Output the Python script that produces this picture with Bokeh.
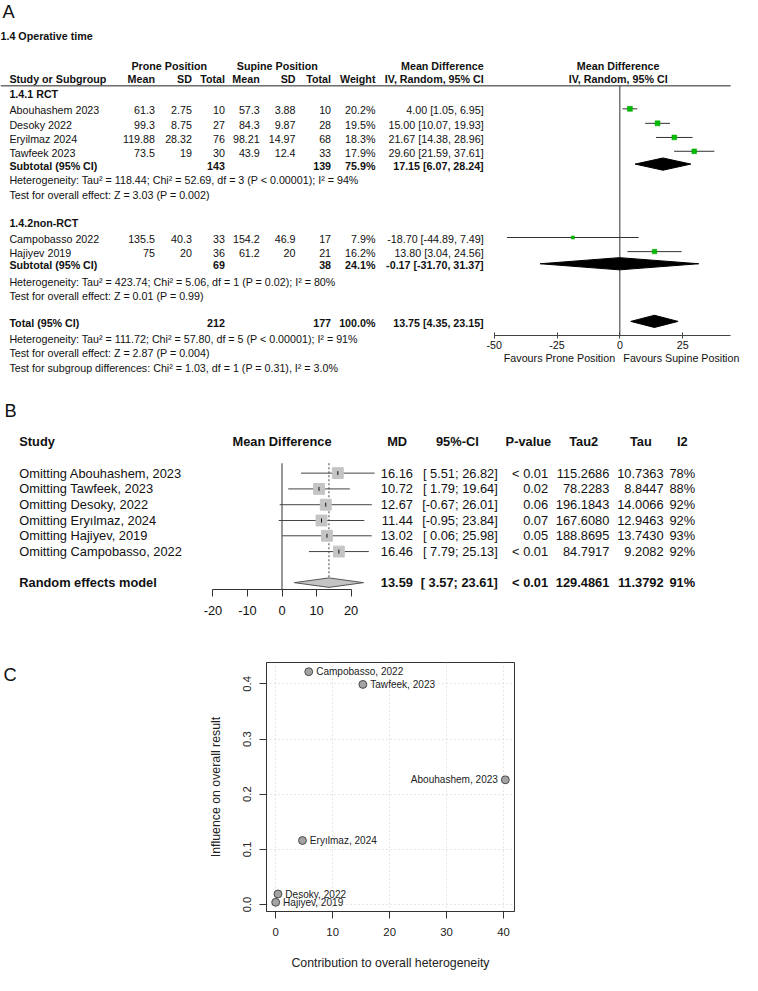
import numpy as np
from bokeh.plotting import figure
from bokeh.layouts import column, row
from bokeh.models import Range1d, LinearAxis, FixedTicker, PrintfTickFormatter
from bokeh.core.properties import value
from bokeh.embed import file_html
from bokeh.resources import INLINE

FONT = "Liberation Sans"
INK = "#111111"
S = 742 / 752.0          # page px per reference px

# ========================= DATA =========================
# ---- Panel A : RevMan forest plot ----
a_title = "1.4 Operative time"
a_groups = ["1.4.1 RCT", "1.4.2non-RCT"]
a_studies = ["Abouhashem 2023", "Desoky 2022", "Eryilmaz 2024", "Tawfeek 2023",
             "Campobasso 2022", "Hajiyev 2019"]
a_prone_mean = [61.3, 99.3, 119.88, 73.5, 135.5, 75]
a_prone_sd = [2.75, 8.75, 28.32, 19, 40.3, 20]
a_prone_n = [10, 27, 76, 30, 33, 36]
a_sup_mean = [57.3, 84.3, 98.21, 43.9, 154.2, 61.2]
a_sup_sd = [3.88, 9.87, 14.97, 12.4, 46.9, 20]
a_sup_n = [10, 28, 68, 33, 17, 21]
a_weight = [20.2, 19.5, 18.3, 17.9, 7.9, 16.2]
a_md = [4.00, 15.00, 21.67, 29.60, -18.70, 13.80]
a_lo = [1.05, 10.07, 14.38, 21.59, -44.89, 3.04]
a_hi = [6.95, 19.93, 28.96, 37.61, 7.49, 24.56]

a_sum_labels = ["Subtotal (95% CI)", "Subtotal (95% CI)", "Total (95% CI)"]
a_sum_prone_n = [143, 69, 212]
a_sum_sup_n = [139, 38, 177]
a_sum_weight = [75.9, 24.1, 100.0]
a_sum_md = [17.15, -0.17, 13.75]
a_sum_lo = [6.07, -31.70, 4.35]
a_sum_hi = [28.24, 31.37, 23.15]

a_notes = [
    "Heterogeneity: Tau\u00b2 = 118.44; Chi\u00b2 = 52.69, df = 3 (P < 0.00001); I\u00b2 = 94%",
    "Test for overall effect: Z = 3.03 (P = 0.002)",
    "Heterogeneity: Tau\u00b2 = 423.74; Chi\u00b2 = 5.06, df = 1 (P = 0.02); I\u00b2 = 80%",
    "Test for overall effect: Z = 0.01 (P = 0.99)",
    "Heterogeneity: Tau\u00b2 = 111.72; Chi\u00b2 = 57.80, df = 5 (P < 0.00001); I\u00b2 = 91%",
    "Test for overall effect: Z = 2.87 (P = 0.004)",
    "Test for subgroup differences: Chi\u00b2 = 1.03, df = 1 (P = 0.31), I\u00b2 = 3.0%",
]
a_arm_headers = ["Prone Position", "Supine Position"]
a_col_headers = ["Mean", "SD", "Total", "Mean", "SD", "Total", "Weight", "IV, Random, 95% CI"]
a_forest_headers = ["Mean Difference", "IV, Random, 95% CI"]
a_ticks = [-50, -25, 0, 25]
a_favours = ["Favours Prone Position", "Favours Supine Position"]

# ---- Panel B : leave-one-out ----
b_headers = ["Study", "Mean Difference", "MD", "95%-CI", "P-value", "Tau2", "Tau", "I2"]
b_labels = ["Omitting Abouhashem, 2023", "Omitting Tawfeek, 2023", "Omitting Desoky, 2022",
            "Omitting Ery\u0131lmaz, 2024", "Omitting Hajiyev, 2019", "Omitting Campobasso, 2022"]
b_md = [16.16, 10.72, 12.67, 11.44, 13.02, 16.46]
b_lo = [5.51, 1.79, -0.67, -0.95, 0.06, 7.79]
b_hi = [26.82, 19.64, 26.01, 23.84, 25.98, 25.13]
b_p = ["< 0.01", "0.02", "0.06", "0.07", "0.05", "< 0.01"]
b_tau2 = [115.2686, 78.2283, 196.1843, 167.6080, 188.8695, 84.7917]
b_tau = [10.7363, 8.8447, 14.0066, 12.9463, 13.7430, 9.2082]
b_i2 = [78, 88, 92, 92, 93, 92]
b_re_label = "Random effects model"
b_re_md, b_re_lo, b_re_hi = 13.59, 3.57, 23.61
b_re_p, b_re_tau2, b_re_tau, b_re_i2 = "< 0.01", 129.4861, 11.3792, 91
b_ticks = [-20, -10, 0, 10, 20]

# ---- Panel C : Baujat plot ----
c_labels = ["Campobasso, 2022", "Tawfeek, 2023", "Abouhashem, 2023",
            "Ery\u0131lmaz, 2024", "Desoky, 2022", "Hajiyev, 2019"]
c_x = [5.8, 15.3, 40.3, 4.7, 0.4, 0.0]
c_y = [0.422, 0.399, 0.226, 0.116, 0.019, 0.004]
c_label_left = [False, False, True, False, False, False]
c_xticks = [0, 10, 20, 30, 40]
c_yticks = [0.0, 0.1, 0.2, 0.3, 0.4]
c_xlabel = "Contribution to overall heterogeneity"
c_ylabel = "Influence on overall result"

# ========================= LAYOUT (reference px) =========================
A_X_STUDY = 12
A_COLS = [159.5, 197, 230.5, 265.7, 302, 338, 383, 492.7]
A_ARM_X = [174, 283.5]
A_Y_HEAD = [67, 81]
A_Y_GROUP = [95.7, 226]
A_Y_STUDY = [112.3, 127, 141.3, 155.3, 242.7, 257]
A_Y_SUM = [168.3, 269.3, 327.7]
A_Y_NOTES = [183.3, 198.3, 286.7, 300, 344.3, 358.7, 373.3]
A_LINE_Y = 87.5
A_ZERO_X, A_PX = 630.7, 2.547
A_AXIS_Y = 341
A_AXIS_END = 44.1
A_FAV_Y = 363.3
FA = 10.85

B_Y_HEAD = 448
B_Y_ROWS = [480, 496, 512, 528, 543.5, 559.5]
B_Y_RE = 591
B_AXIS_Y = 598
B_LINE_TOP = 470
B_ZERO_X, B_PX = 288.3, 3.5
B_COLS_R = [421, 507, 558, 620, 675, 707]
B_HEAD_X = [405, 466, 538, 594, 652, 694]
FB = 13

C_FRAME = (272.5, 524, 671.5, 924)   # left, right, top, bottom
C_END = 988


def fs(px):
    return f"{px * S:.2f}px"


def blank(xa, xb, ya, yb, **kw):
    w = int(round((xb - xa) * S))
    h = int(round((yb - ya) * S))
    p = figure(width=w, height=h, x_range=Range1d(xa, xa + w / S), y_range=Range1d(ya + h / S, ya),
               output_backend="svg", toolbar_location=None, x_axis_location=None,
               y_axis_location=None, min_border=0, outline_line_color=None, **kw)
    p.grid.grid_line_color = None
    return p


def put(p, xs, ys, texts, size, align="left", bold=False, color=INK, rn=None, **kw):
    n = len(texts)
    if not isinstance(xs, (list, tuple)):
        xs = [xs] * n
    if not isinstance(ys, (list, tuple)):
        ys = [ys] * n
    if rn:
        kw["x_range_name"] = rn
    p.text(x=list(xs), y=list(ys), text=list(texts), text_font=value(FONT),
           text_font_size=fs(size), text_align=align, text_baseline="middle",
           text_font_style="bold" if bold else "normal", text_color=color, **kw)


def g(v):
    return f"{v:g}"


def eff(m, l, h):
    return f"{m:.2f} [{l:.2f}, {h:.2f}]"


def md_of(img_x, zero, px):
    return (img_x - zero) / px


# ========================= PANEL A =========================
pA = blank(3, 755, 1, 398)
pA.extra_x_ranges = {"md": Range1d(md_of(3, A_ZERO_X, A_PX), md_of(3 + 742 / S, A_ZERO_X, A_PX))}
put(pA, 5, 12.5, ["A"], 18.5)
put(pA, 3, 37, [a_title], FA, bold=True)
put(pA, A_ARM_X, A_Y_HEAD[0], a_arm_headers, FA, align="center", bold=True)
put(pA, A_COLS[-1], A_Y_HEAD[0], [a_forest_headers[0]], FA, align="right", bold=True)
put(pA, A_X_STUDY, A_Y_HEAD[1], ["Study or Subgroup"], FA, bold=True)
put(pA, A_COLS, A_Y_HEAD[1], a_col_headers, FA, align="right", bold=True)
pA.segment(x0=[3], y0=[A_LINE_Y], x1=[743], y1=[A_LINE_Y], line_color="#222222", line_width=1)

put(pA, A_X_STUDY, A_Y_GROUP, a_groups, FA, bold=True)
put(pA, A_X_STUDY, A_Y_STUDY, a_studies, FA)
cols = [[g(v) for v in a_prone_mean], [g(v) for v in a_prone_sd], [g(v) for v in a_prone_n],
        [g(v) for v in a_sup_mean], [g(v) for v in a_sup_sd], [g(v) for v in a_sup_n],
        [f"{v:.1f}%" for v in a_weight],
        [eff(m, l, h) for m, l, h in zip(a_md, a_lo, a_hi)]]
for cx, vals in zip(A_COLS, cols):
    put(pA, cx, A_Y_STUDY, vals, FA, align="right")

put(pA, A_X_STUDY, A_Y_SUM, a_sum_labels, FA, bold=True)
put(pA, A_COLS[2], A_Y_SUM, [str(v) for v in a_sum_prone_n], FA, align="right", bold=True)
put(pA, A_COLS[5], A_Y_SUM, [str(v) for v in a_sum_sup_n], FA, align="right", bold=True)
put(pA, A_COLS[6], A_Y_SUM, [f"{v:.1f}%" for v in a_sum_weight], FA, align="right", bold=True)
put(pA, A_COLS[7], A_Y_SUM, [eff(m, l, h) for m, l, h in zip(a_sum_md, a_sum_lo, a_sum_hi)],
    FA, align="right", bold=True)
put(pA, A_X_STUDY, A_Y_NOTES, a_notes, FA)

# forest part of A (mean difference scale)
axA = LinearAxis(x_range_name="md", fixed_location=A_AXIS_Y, ticker=FixedTicker(ticks=a_ticks),
                 bounds=(a_ticks[0], A_AXIS_END), formatter=PrintfTickFormatter(format="%d"),
                 major_tick_in=3, major_tick_out=3, minor_tick_in=0, minor_tick_out=0,
                 axis_line_color="#444444", major_tick_line_color="#444444",
                 major_label_text_font=FONT, major_label_text_font_size=fs(FA),
                 major_label_text_color=INK, major_label_standoff=2)
pA.add_layout(axA, "below")
hdr_md = md_of(629, A_ZERO_X, A_PX)
put(pA, hdr_md, A_Y_HEAD[0], [a_forest_headers[0]], FA, align="center", bold=True, rn="md")
put(pA, hdr_md, A_Y_HEAD[1], [a_forest_headers[1]], FA, align="center", bold=True, rn="md")
put(pA, [-1.9, 1.4], A_FAV_Y, a_favours, FA, align=["right", "left"], rn="md")
pA.segment(x0=[0], y0=[A_LINE_Y], x1=[0], y1=[A_AXIS_Y], x_range_name="md",
           line_color="#333333", line_width=1)
ys_m = [y - 1.5 for y in A_Y_STUDY]
pA.segment(x0=a_lo, y0=ys_m, x1=a_hi, y1=ys_m, x_range_name="md", line_color="#333333", line_width=1)
pA.scatter(x=a_md, y=ys_m, marker="square", size=[11.2 * np.sqrt(w / 100) for w in a_weight],
           x_range_name="md", fill_color="#00BB00", line_color="#00A000", line_width=0.5)
yd = [y - 1.5 for y in A_Y_SUM]
pA.patches(xs=[[l, m, h, m] for l, m, h in zip(a_sum_lo, a_sum_md, a_sum_hi)],
           ys=[[y, y - 6.2, y, y + 6.2] for y in yd], x_range_name="md",
           fill_color="black", line_color="black")

# ========================= PANEL B =========================
yB0 = pA.y_range.start
frameB = int(round((B_AXIS_Y - yB0) * S))
botB = int(round(36 * S))
pB = figure(width=742, height=frameB + botB, x_range=Range1d(3, 3 + 742 / S),
            y_range=Range1d(yB0 + frameB / S, yB0), output_backend="svg", toolbar_location=None,
            x_axis_location=None, y_axis_location=None, min_border=0, min_border_bottom=botB,
            outline_line_color=None)
pB.grid.grid_line_color = None
pB.extra_x_ranges = {"md": Range1d(md_of(3, B_ZERO_X, B_PX), md_of(3 + 742 / S, B_ZERO_X, B_PX))}
axB = LinearAxis(x_range_name="md", ticker=FixedTicker(ticks=b_ticks), bounds=(b_ticks[0], b_ticks[-1]),
                 formatter=PrintfTickFormatter(format="%d"),
                 major_tick_in=0, major_tick_out=7, minor_tick_in=0, minor_tick_out=0,
                 axis_line_color="#333333", major_tick_line_color="#333333",
                 major_label_text_font=FONT, major_label_text_font_size=fs(FB),
                 major_label_text_color=INK, major_label_standoff=9)
pB.add_layout(axB, "below")
put(pB, 7, 417, ["B"], 18.5)
put(pB, 22, B_Y_HEAD, [b_headers[0]], FB, bold=True)
put(pB, 0, B_Y_HEAD, [b_headers[1]], FB, align="center", bold=True, rn="md")
put(pB, B_HEAD_X, B_Y_HEAD, b_headers[2:], FB, align="center", bold=True)

put(pB, 22, B_Y_ROWS, b_labels, FB)
b_cols = [[f"{v:.2f}" for v in b_md],
          [f"[{l:5.2f}; {h:5.2f}]" for l, h in zip(b_lo, b_hi)],
          b_p, [f"{v:.4f}" for v in b_tau2], [f"{v:.4f}" for v in b_tau], [f"{v}%" for v in b_i2]]
for cx, vals in zip(B_COLS_R, b_cols):
    put(pB, cx, B_Y_ROWS, vals, FB, align="right")
put(pB, 22, B_Y_RE, [b_re_label], FB, bold=True)
re_vals = [f"{b_re_md:.2f}", f"[{b_re_lo:5.2f}; {b_re_hi:5.2f}]", b_re_p,
           f"{b_re_tau2:.4f}", f"{b_re_tau:.4f}", f"{b_re_i2}%"]
put(pB, B_COLS_R, B_Y_RE, re_vals, FB, align="right", bold=True)

pB.segment(x0=[0], y0=[B_LINE_TOP], x1=[0], y1=[yB0 + frameB / S], x_range_name="md",
           line_color="#333333", line_width=1)
pB.segment(x0=[b_re_md], y0=[B_LINE_TOP], x1=[b_re_md], y1=[B_Y_RE - 4.5], x_range_name="md",
           line_color="#444444", line_width=1, line_dash="2 2")
pB.segment(x0=b_lo, y0=B_Y_ROWS, x1=b_hi, y1=B_Y_ROWS, x_range_name="md",
           line_color="#444444", line_width=1)
pB.scatter(x=b_md, y=B_Y_ROWS, marker="square", size=11 * S, x_range_name="md",
           fill_color="#C4C4C4", line_color="#C4C4C4")
pB.segment(x0=b_md, y0=[y - 2 for y in B_Y_ROWS], x1=b_md, y1=[y + 2 for y in B_Y_ROWS],
           x_range_name="md", line_color="#111111", line_width=1)
pB.patches(xs=[[b_re_lo, b_re_md, b_re_hi, b_re_md]],
           ys=[[B_Y_RE, B_Y_RE - 4.8, B_Y_RE, B_Y_RE + 4.8]], x_range_name="md",
           fill_color="#C4C4C4", line_color="#555555", line_width=1)

# ========================= PANEL C =========================
yC0 = yB0 + (frameB + botB) / S
hC = int(round((C_END - yC0) * S))
wL = int(round(57 * S))
wC = 742 - wL
xC0 = 3 + wL / S
bl = int(round((C_FRAME[0] - xC0) * S))
fw = int(round((C_FRAME[1] - C_FRAME[0]) * S))
bt = int(round((C_FRAME[2] - yC0) * S))
fh = int(round((C_FRAME[3] - C_FRAME[2]) * S))
bb = hC - bt - fh

# letter column, borders identical to the scatter so rows align
pCl = figure(width=wL, height=hC, x_range=Range1d(3, xC0),
             y_range=Range1d(C_FRAME[2] + fh / S, C_FRAME[2]), output_backend="svg",
             toolbar_location=None, x_axis_location=None, y_axis_location=None,
             min_border_left=0, min_border_right=0, min_border_top=bt, min_border_bottom=bb,
             outline_line_color=None)
pCl.grid.grid_line_color = None
put(pCl, 6, 684, ["C"], 18.5)

xr = (min(c_x), max(c_x)); yr = (min(c_y), max(c_y))
dx = 0.04 * (xr[1] - xr[0]); dy = 0.04 * (yr[1] - yr[0])
pC = figure(width=wC, height=hC, x_range=Range1d(xr[0] - dx, xr[1] + dx),
            y_range=Range1d(yr[0] - dy, yr[1] + dy), output_backend="svg", toolbar_location=None,
            min_border_left=bl, min_border_right=wC - bl - fw, min_border_top=bt,
            min_border_bottom=bb, outline_line_color="#333333", outline_line_width=1)
for ax, tk in ((pC.xaxis, c_xticks), (pC.yaxis, c_yticks)):
    ax.ticker = FixedTicker(ticks=tk)
    ax.major_tick_in = 0
    ax.major_tick_out = 7
    ax.minor_tick_in = 0
    ax.minor_tick_out = 0
    ax.axis_line_color = "#333333"
    ax.major_tick_line_color = "#333333"
    ax.major_label_text_font = FONT
    ax.major_label_text_font_size = fs(11.5)
    ax.major_label_text_color = "#222222"
    ax.axis_label_text_font = FONT
    ax.axis_label_text_font_size = fs(12.5)
    ax.axis_label_text_font_style = "normal"
    ax.axis_label_text_color = "#222222"
pC.xaxis.axis_label = c_xlabel
pC.yaxis.axis_label = c_ylabel
pC.yaxis.formatter = PrintfTickFormatter(format="%.1f")
pC.xaxis.formatter = PrintfTickFormatter(format="%d")
pC.yaxis.major_label_orientation = "vertical"
pC.xaxis.major_label_standoff = 9
pC.xaxis.axis_label_standoff = 17
pC.yaxis.major_label_standoff = 8
pC.yaxis.axis_label_standoff = 18
pC.xgrid.ticker = FixedTicker(ticks=c_xticks)
pC.ygrid.ticker = FixedTicker(ticks=c_yticks)
pC.grid.grid_line_color = "#CFCFCF"
pC.grid.grid_line_dash = "1 3"
pC.scatter(x=c_x, y=c_y, marker="circle", size=8 * S, fill_color="#A3A3A3", line_color="#4A4A4A",
           line_width=1)
rx = [x for x, l in zip(c_x, c_label_left) if not l]
ry = [y for y, l in zip(c_y, c_label_left) if not l]
rt = [t for t, l in zip(c_labels, c_label_left) if not l]
lx = [x for x, l in zip(c_x, c_label_left) if l]
ly = [y for y, l in zip(c_y, c_label_left) if l]
lt = [t for t, l in zip(c_labels, c_label_left) if l]
put(pC, rx, ry, rt, 10.2, align="left", color="#222222", x_offset=7.5 * S)
put(pC, lx, ly, lt, 10.2, align="right", color="#222222", x_offset=-7.5 * S)

layout = column(pA, pB, row(pCl, pC))
open("out.html", "w").write(file_html(layout, INLINE))
